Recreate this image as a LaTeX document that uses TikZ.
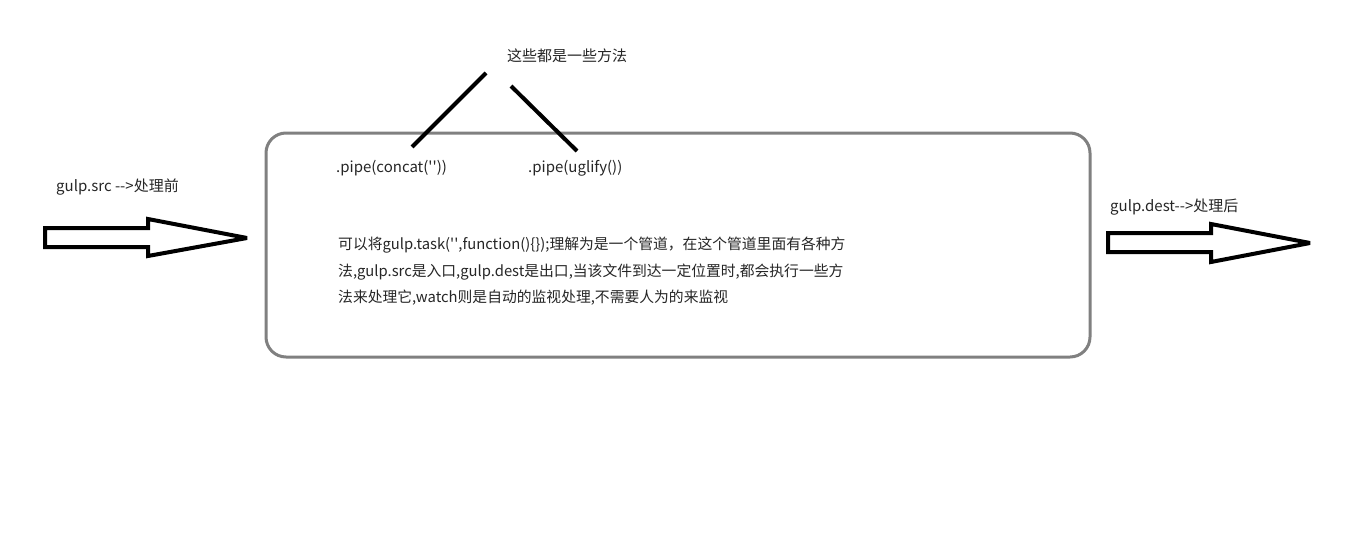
\documentclass[tikz,border=0pt]{standalone}
\usepackage{fontspec}
\newfontfamily\yh{Noto Sans CJK SC}
\begin{document}
\begin{tikzpicture}[x=1pt,y=-1pt,
  lbl/.style={inner sep=0pt,anchor=west,font=\yh\fontsize{15}{18}\selectfont,text=black!85},
  blockarrow/.style={draw=black,line width=4pt,line join=miter,miter limit=4,fill=white},
  stroke/.style={draw=black,line width=4pt},
  pipebox/.style={draw=black!50,line width=3pt,rounded corners=20pt}]
\useasboundingbox[fill=white] (0,0) rectangle (1360,552);
% box
\draw[pipebox] (266,133) rectangle (1090,357);
% left block arrow
\draw[blockarrow] (45,228) -- (148,228) -- (148,219) -- (247,238) -- (148,256) -- (148,247) -- (45,247) -- cycle;
% right block arrow
\draw[blockarrow] (1108,233) -- (1211,233) -- (1211,224) -- (1310,243) -- (1211,262) -- (1211,252) -- (1108,252) -- cycle;
% texts
\node[lbl] (title) at (507,56) {这些都是一些方法};
\node[lbl] (concat) at (336,168) {.pipe(concat(\textquotesingle\textquotesingle))};
\node[lbl] (uglify) at (528,168) {.pipe(uglify())};
\node[lbl] (src) at (56,187) {gulp.src -->处理前};
\node[lbl] (dest) at (1110,207) {gulp.dest-->处理后};
\node[lbl,align=left,font=\yh\fontsize{14.8}{26.5}\selectfont] (para) at (338,271.5)
  {可以将gulp.task(\textquotesingle\textquotesingle,function()\{\});理解为是一个管道，在这个管道里面有各种方\\
   法,gulp.src是入口,gulp.dest是出口,当该文件到达一定位置时,都会执行一些方\\
   法来处理它,watch则是自动的监视处理,不需要人为的来监视};
% strokes
\coordinate (l1a) at (412,147);
\coordinate (l1b) at (486,73);
\coordinate (l2a) at (511,86);
\coordinate (l2b) at (577,151);
\draw[stroke] (l1a) -- (l1b);
\draw[stroke] (l2a) -- (l2b);
\end{tikzpicture}
\end{document}
